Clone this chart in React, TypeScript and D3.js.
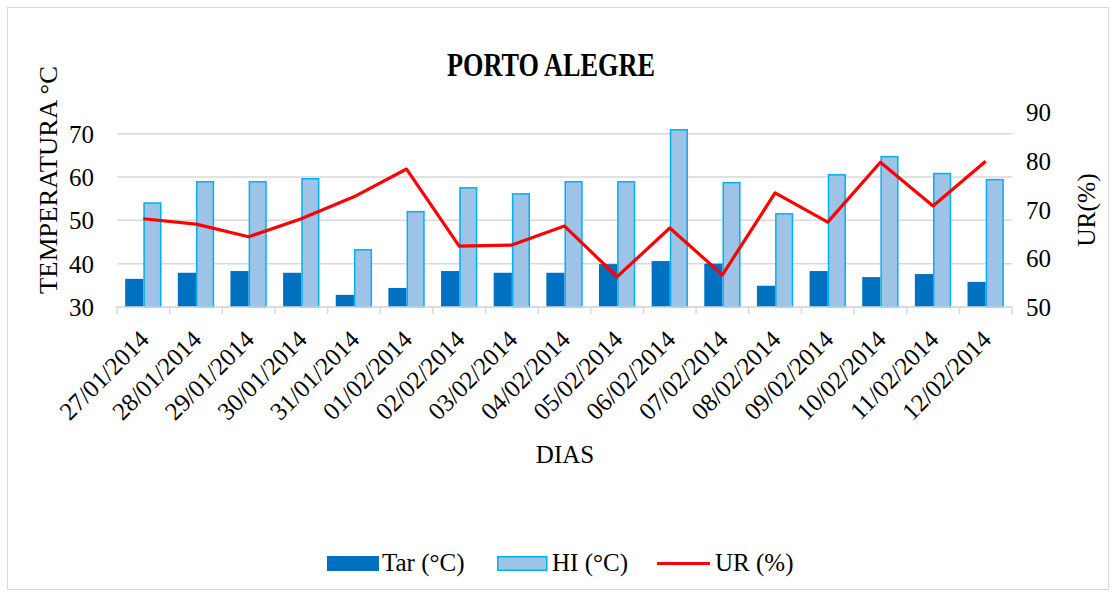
import React from "react";
import * as d3 from "d3";

const categories = ["27/01/2014","28/01/2014","29/01/2014","30/01/2014","31/01/2014","01/02/2014","02/02/2014","03/02/2014","04/02/2014","05/02/2014","06/02/2014","07/02/2014","08/02/2014","09/02/2014","10/02/2014","11/02/2014","12/02/2014"];
const tar = [36.5,37.9,38.3,37.9,32.8,34.4,38.3,37.9,37.9,39.9,40.6,40.0,34.9,38.3,36.9,37.6,35.8];
const hi = [54.0,58.9,58.9,59.6,43.2,52.0,57.5,56.1,58.9,58.9,70.9,58.7,51.5,60.5,64.7,60.8,59.4];
const ur = [68.1,67.0,64.4,68.1,72.6,78.3,62.5,62.7,66.6,56.2,66.2,56.6,73.4,67.4,79.7,70.7,79.9];
const leftTicks = [30,40,50,60,70];
const rightTicks = [50,60,70,80,90];

const FONT = "'Liberation Serif', 'Times New Roman', serif";

export default function App() {
  const W = 1116, H = 597;
  const x0 = 117, x1 = 1012, yTop = 112, yBot = 307;
  const x = d3.scaleBand<string>().domain(categories).range([x0, x1]).paddingInner(0).paddingOuter(0);
  const yL = d3.scaleLinear().domain([30, 75]).range([yBot, yTop]);
  const yR = d3.scaleLinear().domain([50, 90]).range([yBot, yTop]);
  const bw = x.bandwidth();
  const barW = bw * 0.345;
  const cx = (c: string) => (x(c) as number) + bw / 2;
  const line = d3.line<number>().x((_, i) => cx(categories[i])).y(d => yR(d));

  return (
    <svg width={W} height={H} style={{ position: "absolute", left: 0, top: 0, background: "#fff" }} fontFamily={FONT}>
      <rect x={7.5} y={7.5} width={1101} height={582} fill="#fff" stroke="#d9d9d9" strokeWidth={1} />
      <text x={551} y={76} textAnchor="middle" fontSize={33} fontWeight="bold" textLength={208} lengthAdjust="spacingAndGlyphs">PORTO ALEGRE</text>
      {leftTicks.map(t => (
        <g key={t}>
          <line x1={x0} x2={x1} y1={yL(t)} y2={yL(t)} stroke="#d9d9d9" strokeWidth={1.5} />
          <text x={94} y={yL(t)} dy="0.36em" textAnchor="end" fontSize={25}>{t}</text>
        </g>
      ))}
      {rightTicks.map(t => (
        <text key={t} x={1026} y={yR(t)} dy="0.36em" textAnchor="start" fontSize={25}>{t}</text>
      ))}
      {categories.map((c, i) => (
        <g key={c}>
          <rect x={cx(c) - barW} y={yL(tar[i])} width={barW} height={yBot - yL(tar[i])} fill="#0070C0" />
          <rect x={cx(c) + 0.75} y={yL(hi[i])} width={barW - 1.5} height={yBot - yL(hi[i])} fill="#9DC3E6" stroke="#00B0F0" strokeWidth={1.5} />
        </g>
      ))}
      <line x1={x0} x2={x1} y1={yBot} y2={yBot} stroke="#d9d9d9" strokeWidth={1.5} />
      {categories.concat(["end"]).map((c, i) => {
        const xx = i < categories.length ? (x(c) as number) : x1;
        return <line key={"t" + i} x1={xx} x2={xx} y1={yBot} y2={yBot + 7} stroke="#d9d9d9" strokeWidth={1.5} />;
      })}
      <path d={line(ur) as string} fill="none" stroke="#FF0000" strokeWidth={3.2} strokeLinejoin="round" />
      {categories.map(c => (
        <text key={"l" + c} transform={`translate(${cx(c) + 7},${yBot + 34}) rotate(-45)`} textAnchor="end" fontSize={25}>{c}</text>
      ))}
      <text transform={`translate(57,180) rotate(-90)`} textAnchor="middle" fontSize={26} textLength={228} lengthAdjust="spacingAndGlyphs">TEMPERATURA °C</text>
      <text transform={`translate(1095,210) rotate(-90)`} textAnchor="middle" fontSize={25.5}>UR(%)</text>
      <text x={565} y={463} textAnchor="middle" fontSize={25}>DIAS</text>
      <g fontSize={25}>
        <rect x={327} y={556} width={52} height={15} fill="#0070C0" />
        <text x={382} y={571}>Tar (°C)</text>
        <rect x={497.75} y={556.75} width={49} height={13.5} fill="#9DC3E6" stroke="#00B0F0" strokeWidth={1.5} />
        <text x={552} y={571}>HI (°C)</text>
        <line x1={657} x2={710} y1={563.5} y2={563.5} stroke="#FF0000" strokeWidth={3.2} />
        <text x={715} y={571}>UR (%)</text>
      </g>
    </svg>
  );
}
